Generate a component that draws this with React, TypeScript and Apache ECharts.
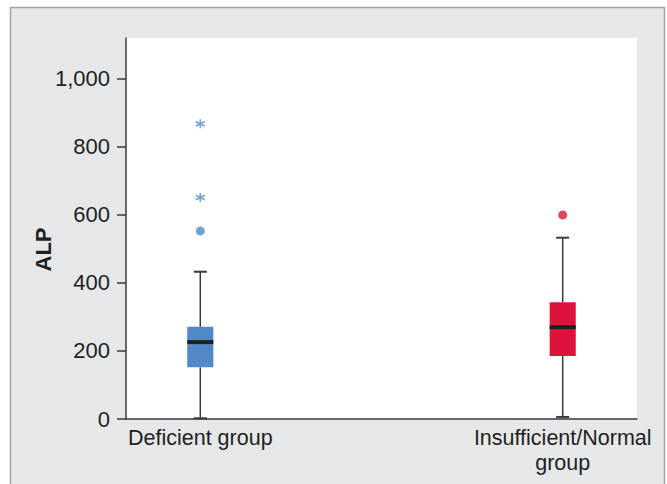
import React, { useEffect, useRef } from "react";
import * as echarts from "echarts";

const categories = ["Deficient group", "Insufficient/Normal\ngroup"];
const categoryPositions = [0, 1];
const lowWhisker = [2, 6];
const q1 = [152, 185];
const median = [226, 270];
const q3 = [271, 343];
const highWhisker = [433, 533];
const circleOutliers = [
  [0, 553],
  [1, 600],
];
const extremeOutliers = [
  [0, 651],
  [0, 868],
];
const yTicks = [0, 200, 400, 600, 800, 1000];
const groupColors = ["#5088c8", "#dc143c"];

const FONT = "'Liberation Sans', Arial, Helvetica, sans-serif";
const TEXT = "#231f20";
const LINE = "#3a3a3a";

export default function App() {
  const ref = useRef<HTMLDivElement>(null);

  useEffect(() => {
    if (!ref.current) return;
    const chart = echarts.init(ref.current, undefined, { renderer: "svg" });

    const boxData = categoryPositions.map((x, i) => [
      x,
      lowWhisker[i],
      q1[i],
      median[i],
      q3[i],
      highWhisker[i],
    ]);

    const option: any = {
      animation: false,
      backgroundColor: "#ffffff",
      textStyle: { fontFamily: FONT },
      graphic: [
        {
          type: "rect",
          z: -100,
          silent: true,
          shape: { x: 10.5, y: 7.5, width: 654, height: 500 },
          style: { fill: "#e6e7e8", stroke: "#a4a4a4", lineWidth: 1.5 },
        },
      ],
      grid: {
        left: 126,
        right: 30,
        top: 38,
        bottom: 65,
        show: true,
        backgroundColor: "#ffffff",
        borderWidth: 0,
      },
      xAxis: {
        type: "value",
        min: -0.205,
        max: 1.205,
        splitLine: { show: false },
        axisTick: { show: false },
        axisLine: { show: true, onZero: false, lineStyle: { color: LINE, width: 1.5 } },
        axisLabel: {
          customValues: categoryPositions,
          formatter: (v: number) => categories[Math.round(v)] ?? "",
          fontSize: 21.5,
          lineHeight: 25,
          color: TEXT,
          fontFamily: FONT,
          margin: 6,
        },
      },
      yAxis: {
        type: "value",
        min: 0,
        max: 1120,
        interval: 200,
        name: "ALP",
        nameLocation: "middle",
        nameGap: 72,
        nameMoveOverlap: false,
        nameTextStyle: {
          fontSize: 22,
          fontWeight: "bold",
          color: TEXT,
          fontFamily: FONT,
          padding: [0, 42, 0, 0],
        },
        splitLine: { show: false },
        axisLine: { show: true, onZero: false, lineStyle: { color: LINE, width: 1.5 } },
        axisTick: {
          show: true,
          length: 9,
          customValues: yTicks,
          lineStyle: { color: LINE, width: 1.5 },
        },
        axisLabel: {
          customValues: yTicks,
          formatter: (v: number) => v.toLocaleString("en-US"),
          fontSize: 22,
          color: TEXT,
          fontFamily: FONT,
          margin: 16,
        },
      },
      series: [
        {
          type: "custom",
          data: boxData,
          encode: { x: 0, y: [1, 2, 3, 4, 5] },
          renderItem: (params: any, api: any) => {
            const x = api.value(0);
            const idx = params.dataIndex;
            const pLow = api.coord([x, api.value(1)]);
            const pQ1 = api.coord([x, api.value(2)]);
            const pMed = api.coord([x, api.value(3)]);
            const pQ3 = api.coord([x, api.value(4)]);
            const pHigh = api.coord([x, api.value(5)]);
            const boxW = api.size([0.072, 0])[0];
            const capW = boxW / 2;
            const cx = pMed[0];
            const lineStyle = { stroke: LINE, lineWidth: 1.5 };
            return {
              type: "group",
              children: [
                {
                  type: "line",
                  shape: { x1: cx, y1: pQ1[1], x2: cx, y2: pLow[1] },
                  style: lineStyle,
                },
                {
                  type: "line",
                  shape: { x1: cx, y1: pQ3[1], x2: cx, y2: pHigh[1] },
                  style: lineStyle,
                },
                {
                  type: "line",
                  shape: { x1: cx - capW / 2, y1: pLow[1], x2: cx + capW / 2, y2: pLow[1] },
                  style: { stroke: LINE, lineWidth: 2 },
                },
                {
                  type: "line",
                  shape: { x1: cx - capW / 2, y1: pHigh[1], x2: cx + capW / 2, y2: pHigh[1] },
                  style: { stroke: LINE, lineWidth: 2 },
                },
                {
                  type: "rect",
                  shape: {
                    x: cx - boxW / 2,
                    y: pQ3[1],
                    width: boxW,
                    height: pQ1[1] - pQ3[1],
                  },
                  style: { fill: groupColors[idx] },
                },
                {
                  type: "line",
                  shape: { x1: cx - boxW / 2, y1: pMed[1], x2: cx + boxW / 2, y2: pMed[1] },
                  style: { stroke: "#231f20", lineWidth: 4 },
                },
              ],
            };
          },
        },
        {
          type: "scatter",
          symbol: "circle",
          symbolSize: 9,
          data: circleOutliers.map((p) => ({
            value: p,
            itemStyle: { color: groupColors[p[0]] },
          })),
        },
        {
          type: "scatter",
          symbol: "path://M5,0 L5,10 M0.67,2.5 L9.33,7.5 M0.67,7.5 L9.33,2.5",
          symbolSize: 9,
          data: extremeOutliers.map((p) => ({
            value: p,
            itemStyle: {
              color: "none",
              borderColor: groupColors[p[0]],
              borderWidth: 1.5,
            },
          })),
        },
      ],
    };

    chart.setOption(option);
    return () => chart.dispose();
  }, []);

  return (
    <div
      ref={ref}
      style={{ position: "fixed", left: 0, top: 0, width: 667, height: 484 }}
    />
  );
}
